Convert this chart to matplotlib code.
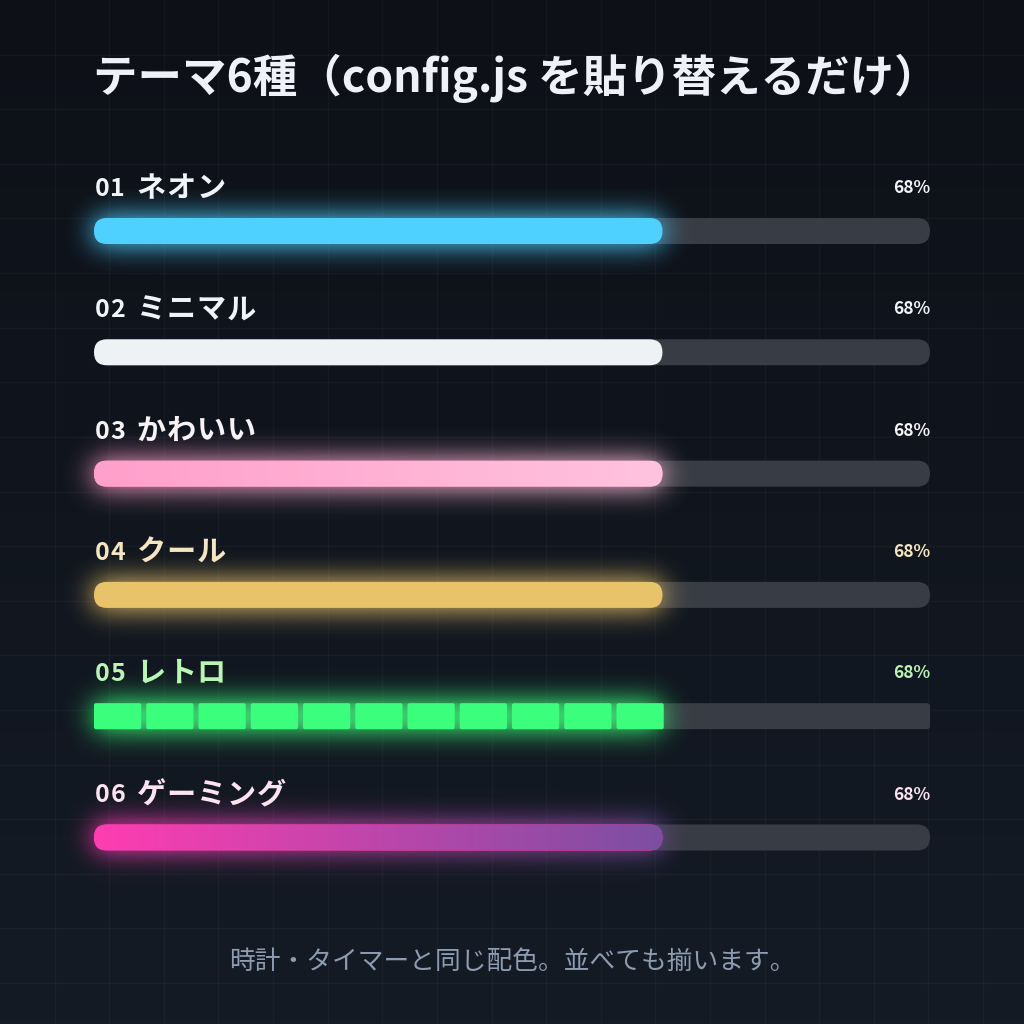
import math
import numpy as np
import matplotlib
matplotlib.use("Agg")
import matplotlib.pyplot as plt
from matplotlib.patches import FancyBboxPatch
from matplotlib.colors import to_rgb

plt.rcParams['font.family'] = ['Noto Sans CJK JP', 'DejaVu Sans']

title = "テーマ6種（config.js を貼り替えるだけ）"
footer = "時計・タイマーと同じ配色。並べても揃います。"

theme_nums = ["01", "02", "03", "04", "05", "06"]
theme_names = ["ネオン", "ミニマル", "かわいい", "クール", "レトロ", "ゲーミング"]
values = [68, 68, 68, 68, 68, 68]
fill_left = ["#4fd1ff", "#eef2f5", "#ff9fcb", "#e8c36a", "#3bff7c", "#ff3db2"]
fill_right = ["#4fd1ff", "#eef2f5", "#ffc3de", "#e8c36a", "#3bff7c", "#7b4fa3"]
label_colors = ["#f0f4f8", "#f0f4f8", "#f6f2f6", "#f5e6c2", "#baf5b4", "#fde3f1"]
glow_on = [True, False, True, True, True, True]
retro_blocks = 16

W = 1024
fig = plt.figure(figsize=(10.24, 10.24), dpi=100)
ax = fig.add_axes([0, 0, 1, 1])
ax.set_xlim(0, W)
ax.set_ylim(W, 0)
ax.axis('off')
renderer = fig.canvas.get_renderer()

# background
top = np.array(to_rgb("#0d1017"))
bot = np.array(to_rgb("#141b25"))
t = np.linspace(0, 1, 256)[:, None, None]
bg = top + (bot - top) * t
bg = np.repeat(bg, 2, axis=1)
ax.imshow(bg, extent=(0, W, W, 0), aspect='auto', zorder=0)
step = W / 18.75
for k in range(1, 19):
    ax.axvline(k * step, color='white', alpha=0.03, lw=1, zorder=0.5)
    ax.axhline(k * step, color='white', alpha=0.03, lw=1, zorder=0.5)

erf = np.vectorize(math.erf)


def glow(x0, x1, yc, h, c0, c1, s=11, strength=1.0):
    xs = np.arange(x0 - 4 * s, x1 + 4 * s, 1.0)
    ys = np.arange(yc - h / 2 - 4 * s, yc + h / 2 + 4 * s, 1.0)
    r2 = s * math.sqrt(2)
    gx = 0.5 * (erf((xs - x0) / r2) - erf((xs - x1) / r2))
    gy = 0.5 * (erf((ys - (yc - h / 2)) / r2) - erf((ys - (yc + h / 2)) / r2))
    a = np.outer(gy, gx) * strength
    f = np.clip((xs - x0) / (x1 - x0), 0, 1)
    cols = np.array(to_rgb(c0))[None, :] * (1 - f[:, None]) + np.array(to_rgb(c1))[None, :] * f[:, None]
    rgba = np.zeros((len(ys), len(xs), 4))
    rgba[..., :3] = cols[None, :, :]
    rgba[..., 3] = np.clip(a, 0, 1)
    ax.imshow(rgba, extent=(xs[0], xs[-1], ys[-1], ys[0]), aspect='auto',
              interpolation='bilinear', zorder=2)


def spaced_text(x, y, s, size, color, spacing, weight='bold'):
    for ch in s:
        tt = ax.text(x, y, ch, color=color, fontsize=size, fontweight=weight,
                     ha='left', va='center', zorder=5)
        x += tt.get_window_extent(renderer).width + spacing
    return x


x_start, x_end = 94, 930
bar_h = 26
row0, row_gap = 231, 121.3

for i in range(len(theme_nums)):
    yc = row0 + i * row_gap
    frac = values[i] / 100
    xf = x_start + (x_end - x_start) * frac
    retro = i == 4
    rad = 3 if retro else bar_h / 2

    track = FancyBboxPatch((x_start + rad, yc - bar_h / 2 + rad), x_end - x_start - 2 * rad, bar_h - 2 * rad,
                           boxstyle=f"round,pad={rad}", fc="#383c44", ec='none', zorder=1)
    ax.add_patch(track)

    if glow_on[i]:
        glow(x_start, xf, yc, bar_h, fill_left[i], fill_right[i], s=14, strength=1.15)

    if retro:
        bw = (x_end - x_start) / retro_blocks
        nb = int(round(frac * retro_blocks))
        for b in range(nb):
            bx = x_start + b * bw
            p = FancyBboxPatch((bx + 2, yc - bar_h / 2 + 2), bw - 5 - 4, bar_h - 4,
                               boxstyle="round,pad=2", fc=fill_left[i], ec='none', zorder=3)
            ax.add_patch(p)
    else:
        p = FancyBboxPatch((x_start + rad, yc - bar_h / 2 + rad), xf - x_start - 2 * rad, 0,
                           boxstyle=f"round,pad={rad}", fc=fill_left[i], ec='none', zorder=3)
        ax.add_patch(p)
        if fill_left[i] != fill_right[i]:
            g = np.linspace(0, 1, 256)[None, :, None]
            c0 = np.array(to_rgb(fill_left[i]))
            c1 = np.array(to_rgb(fill_right[i]))
            img = c0 + (c1 - c0) * g
            img = np.repeat(img, 2, axis=0)
            im = ax.imshow(img, extent=(x_start, xf, yc + bar_h / 2, yc - bar_h / 2),
                           aspect='auto', zorder=4)
            im.set_clip_path(p)

    ly = yc - 43
    xn = spaced_text(x_start + 1, ly + 1, theme_nums[i], 18, label_colors[i], 0.5, weight='semibold')
    spaced_text(xn + 11, ly, theme_names[i], 21, label_colors[i], 1.0)
    ax.text(x_end, ly, f"{values[i]}%", color=label_colors[i], fontsize=12.5,
            fontweight='bold', ha='right', va='center', zorder=5)

ax.text(93, 78, title, color="#eef2f8", fontsize=32, fontweight='bold',
        ha='left', va='center', zorder=5)
ax.text(W / 2, 962, footer, color="#8d9cb0", fontsize=18.5, ha='center', va='center', zorder=5)

fig.savefig("out.png", dpi=100)
